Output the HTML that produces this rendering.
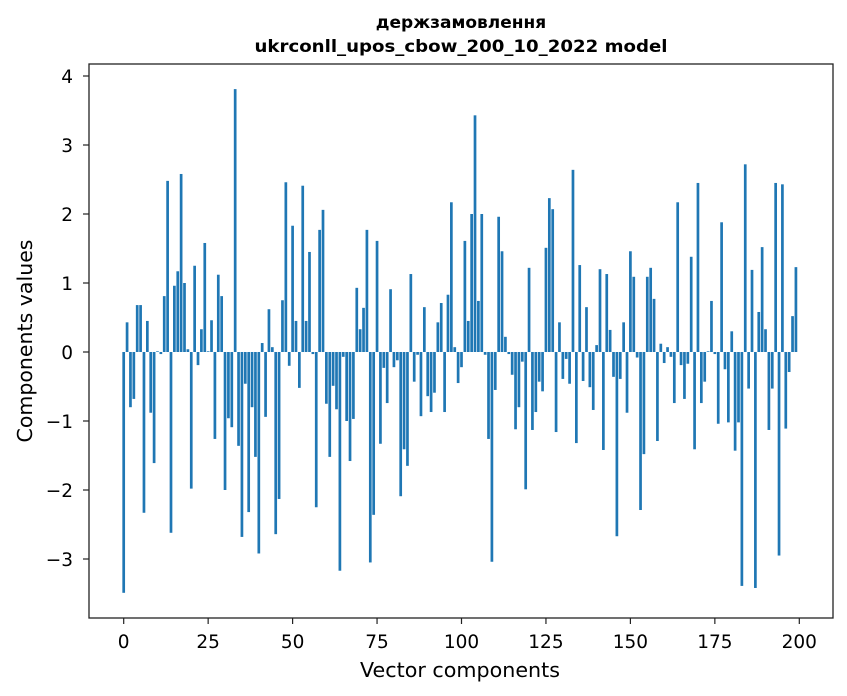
<!DOCTYPE html>
<html><head><meta charset="utf-8"><style>
body{margin:0;background:#fff;}
svg{display:block;font-family:"DejaVu Sans","Liberation Sans",sans-serif;}
</style></head><body>
<svg id="chart" width="847" height="696" viewBox="0 0 847 696">
<rect width="847" height="696" fill="#fff"/>
<text x="461" y="28" text-anchor="middle" font-size="17" font-weight="bold">держзамовлення</text>
<text x="461" y="52" text-anchor="middle" font-size="17" font-weight="bold" textLength="413" lengthAdjust="spacingAndGlyphs">ukrconll_upos_cbow_200_10_2022 model</text>
<g id="bars"></g>
<g id="xticks"></g>
<g id="yticks"></g>
<rect x="89" y="64" width="744" height="554" fill="none" stroke="#222" stroke-width="1.3"/>
<text x="460" y="677" text-anchor="middle" font-size="20.5" textLength="200" lengthAdjust="spacingAndGlyphs">Vector components</text>
<text transform="translate(32,341) rotate(-90)" text-anchor="middle" font-size="20.5" textLength="203" lengthAdjust="spacingAndGlyphs">Components values</text>
</svg>
<script>
const values = [-3.49,0.43,-0.80,-0.68,0.68,0.68,-2.33,0.45,-0.88,-1.61,0.01,-0.03,0.81,2.48,-2.62,0.96,1.17,2.58,1.0,0.04,
-1.98,1.25,-0.19,0.33,1.58,0.01,0.46,-1.26,1.12,0.81,-2.0,-0.96,-1.09,3.81,-1.36,-2.68,-0.46,-2.32,-0.80,-1.52,
-2.92,0.13,-0.94,0.62,0.07,-2.64,-2.13,0.75,2.46,-0.2,1.83,0.45,-0.52,2.41,0.45,1.45,-0.03,-2.25,1.77,2.06,
-0.75,-1.52,-0.49,-0.83,-3.17,-0.07,-1.0,-1.58,-0.97,0.93,0.33,0.64,1.77,-3.05,-2.36,1.61,-1.33,-0.23,-0.74,0.91,
-0.22,-0.12,-2.09,-1.41,-1.65,1.13,-0.43,-0.04,-0.93,0.65,-0.64,-0.87,-0.59,0.43,0.71,-0.87,0.83,2.17,0.07,-0.45,
-0.22,1.61,0.45,2.0,3.43,0.74,2.0,-0.04,-1.26,-3.04,-0.55,1.96,1.46,0.22,-0.03,-0.33,-1.12,-0.80,-0.14,-1.99,
1.22,-1.13,-0.87,-0.43,-0.57,1.51,2.23,2.07,-1.16,0.43,-0.39,-0.10,-0.46,2.64,-1.32,1.26,-0.42,0.65,-0.51,-0.84,
0.10,1.2,-1.42,1.13,0.32,-0.36,-2.67,-0.39,0.43,-0.88,1.46,1.09,-0.08,-2.29,-1.48,1.09,1.22,0.77,-1.29,0.12,
-0.16,0.07,-0.07,-0.74,2.17,-0.19,-0.68,-0.17,1.38,-1.41,2.45,-0.74,-0.43,0.01,0.74,-0.03,-1.04,1.88,-0.25,-1.02,
0.30,-1.43,-1.02,-3.39,2.72,-0.53,1.19,-3.42,0.58,1.52,0.33,-1.13,-0.53,2.45,-2.95,2.43,-1.11,-0.29,0.52,1.23];
const xTicks = [0,25,50,75,100,125,150,175,200];
const yTicks = [-3,-2,-1,0,1,2,3,4];
const NS="http://www.w3.org/2000/svg";
const xs = v => 123.7 + v*3.378;
const ys = v => 352 - v*69;
const bars=document.getElementById('bars');
values.forEach((v,i)=>{
  const r=document.createElementNS(NS,'rect');
  const w=0.8*3.378;
  r.setAttribute('x',xs(i)-w/2);
  r.setAttribute('width',w);
  r.setAttribute('y',Math.min(ys(v),ys(0)));
  r.setAttribute('height',Math.abs(ys(v)-ys(0)));
  r.setAttribute('fill','#1f77b4');
  
  
  bars.appendChild(r);
});
const xg=document.getElementById('xticks');
xTicks.forEach(t=>{
  const l=document.createElementNS(NS,'line');
  l.setAttribute('x1',xs(t));l.setAttribute('x2',xs(t));l.setAttribute('y1',618);l.setAttribute('y2',624);
  l.setAttribute('stroke','#222');l.setAttribute('stroke-width','1.2');
  
  
  xg.appendChild(l);
  const tx=document.createElementNS(NS,'text');
  tx.setAttribute('x',xs(t));tx.setAttribute('y',648);tx.setAttribute('text-anchor','middle');tx.setAttribute('font-size','18.5');
  tx.textContent=t;
  
  
  xg.appendChild(tx);
});
const yg=document.getElementById('yticks');
yTicks.forEach(t=>{
  const l=document.createElementNS(NS,'line');
  l.setAttribute('x1',83);l.setAttribute('x2',89);l.setAttribute('y1',ys(t));l.setAttribute('y2',ys(t));
  l.setAttribute('stroke','#222');l.setAttribute('stroke-width','1.2');
  
  
  yg.appendChild(l);
  const tx=document.createElementNS(NS,'text');
  tx.setAttribute('x',73);tx.setAttribute('y',ys(t)+7);tx.setAttribute('text-anchor','end');tx.setAttribute('font-size','18.5');
  tx.textContent=t<0?'\u2212'+(-t):String(t);
  
  
  yg.appendChild(tx);
});
</script>
</body></html>
